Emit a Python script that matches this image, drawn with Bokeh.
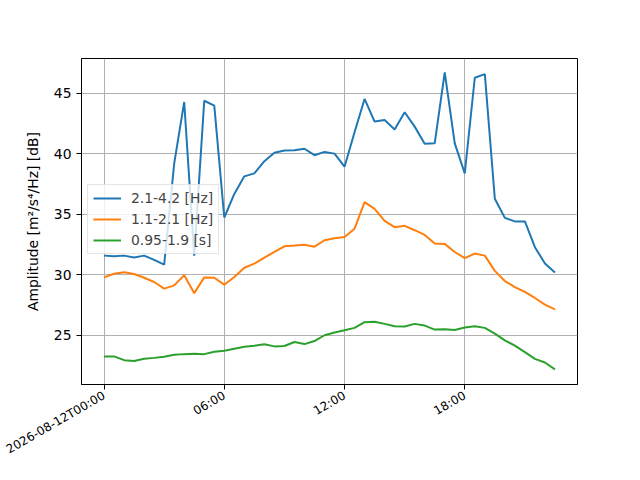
import math
import pandas as pd
from bokeh.plotting import figure
from bokeh.models import FixedTicker, CustomJSTickFormatter, Range1d, Legend, LegendItem
from bokeh.embed import file_html
from bokeh.resources import INLINE

times = ["00:00", "00:30", "01:00", "01:30", "02:00", "02:30", "03:00", "03:30",
         "04:00", "04:30", "05:00", "05:30", "06:00", "06:30", "07:00", "07:30",
         "08:00", "08:30", "09:00", "09:30", "10:00", "10:30", "11:00", "11:30",
         "12:00", "12:30", "13:00", "13:30", "14:00", "14:30", "15:00", "15:30",
         "16:00", "16:30", "17:00", "17:30", "18:00", "18:30", "19:00", "19:30",
         "20:00", "20:30", "21:00", "21:30", "22:00", "22:30"]
date = "2026-08-12"

band_hz_high = [31.6, 31.55, 31.6, 31.45, 31.6, 31.25, 30.85, 39.2, 44.3, 31.6,
                44.4, 44.0, 34.75, 36.7, 38.15, 38.4, 39.4, 40.1, 40.28, 40.3,
                40.43, 39.9, 40.17, 40.03, 38.95, 41.8, 44.55, 42.68, 42.8, 42.03,
                43.45, 42.26, 40.85, 40.88, 46.75, 40.88, 38.4, 46.3, 46.6, 36.3,
                34.72, 34.43, 34.43, 32.3, 30.95, 30.2]
band_hz_mid = [29.8, 30.1, 30.22, 30.08, 29.77, 29.42, 28.87, 29.14, 29.98, 28.5,
               29.8, 29.77, 29.2, 29.84, 30.6, 30.94, 31.44, 31.9, 32.37, 32.43,
               32.5, 32.34, 32.87, 33.03, 33.13, 33.83, 36.02, 35.47, 34.47, 33.95,
               34.06, 33.7, 33.31, 32.6, 32.57, 31.9, 31.4, 31.77, 31.6, 30.34,
               29.5, 29.0, 28.6, 28.1, 27.55, 27.15]
band_period = [23.27, 23.27, 22.96, 22.9, 23.07, 23.15, 23.24, 23.4, 23.46, 23.49,
               23.46, 23.66, 23.74, 23.91, 24.07, 24.16, 24.27, 24.1, 24.13, 24.46,
               24.29, 24.54, 25.02, 25.24, 25.43, 25.63, 26.1, 26.13, 25.96, 25.77,
               25.74, 25.96, 25.82, 25.49, 25.52, 25.46, 25.66, 25.77, 25.63, 25.16,
               24.6, 24.16, 23.63, 23.07, 22.77, 22.2]
labels = ["2.1-4.2 [Hz]", "1.1-2.1 [Hz]", "0.95-1.9 [s]"]
colors = ["#1f77b4", "#ff7f0e", "#2ca02c"]
tick_times = ["00:00", "06:00", "12:00", "18:00"]
y_ticks = [25, 30, 35, 40, 45]

x = pd.to_datetime([date + " " + t for t in times])
def ms(ts):
    return pd.Timestamp(ts).value / 1e6

x0 = ms(x[0])
x1 = ms(x[-1])
span = x1 - x0

p = figure(x_axis_type="datetime", output_backend="svg", toolbar_location=None,
           frame_width=496, frame_height=326,
           min_border_left=81, min_border_right=63, min_border_top=58, min_border_bottom=96,
           background_fill_color="white", border_fill_color="white")
p.x_range = Range1d(x0 - 0.05 * span, x1 + 0.05 * span)
p.y_range = Range1d(20.95, 47.89)

renderers = []
for ys, c in zip([band_hz_high, band_hz_mid, band_period], colors):
    r = p.line(x, ys, line_color=c, line_width=2)
    renderers.append(r)

p.outline_line_color = "black"
p.outline_line_width = 1
p.outline_line_alpha = 1

p.xaxis.ticker = FixedTicker(ticks=[ms(date + " " + t) for t in tick_times])
p.xaxis.formatter = CustomJSTickFormatter(code="""
const d = new Date(tick);
const hh = String(d.getUTCHours()).padStart(2, '0');
const mm = String(d.getUTCMinutes()).padStart(2, '0');
if (index == 0) { return "2026-08-12T" + hh + ":" + mm; }
return hh + ":" + mm;
""")
p.xaxis.major_label_orientation = math.pi / 6
p.yaxis.ticker = FixedTicker(ticks=y_ticks)

for ax in (p.xaxis[0], p.yaxis[0]):
    ax.axis_line_color = "black"
    ax.major_tick_line_color = "black"
    ax.major_tick_out = 5
    ax.major_tick_in = 0
    ax.minor_tick_line_color = None
    ax.major_label_text_color = "black"
    ax.major_label_text_font = "DejaVu Sans"
    ax.major_label_standoff = 5
p.xaxis.major_label_text_font_size = "12px"
p.yaxis.major_label_text_font_size = "13.9px"
p.yaxis.axis_label = "Amplitude [m²/s⁴/Hz] [dB]"
p.yaxis.axis_label_text_font = "DejaVu Sans"
p.yaxis.axis_label_text_font_size = "13.9px"
p.yaxis.axis_label_text_font_style = "normal"
p.yaxis.axis_label_text_color = "black"
p.yaxis.axis_label_standoff = 10

p.xgrid.grid_line_color = "#b0b0b0"
p.ygrid.grid_line_color = "#b0b0b0"
p.xgrid.grid_line_width = 1
p.ygrid.grid_line_width = 1

legend = Legend(items=[LegendItem(label=l, renderers=[r]) for l, r in zip(labels, renderers)],
                location=(6, 130))
legend.label_text_font = "DejaVu Sans"
legend.label_text_font_size = "13.9px"
legend.glyph_width = 28
legend.glyph_height = 16
legend.label_height = 16
legend.label_standoff = 10
legend.spacing = 5
legend.padding = 5
legend.margin = 0
legend.border_line_color = "#cccccc"
legend.background_fill_alpha = 0.8
p.add_layout(legend, "center")

open("out.html", "w").write(file_html(p, INLINE))
